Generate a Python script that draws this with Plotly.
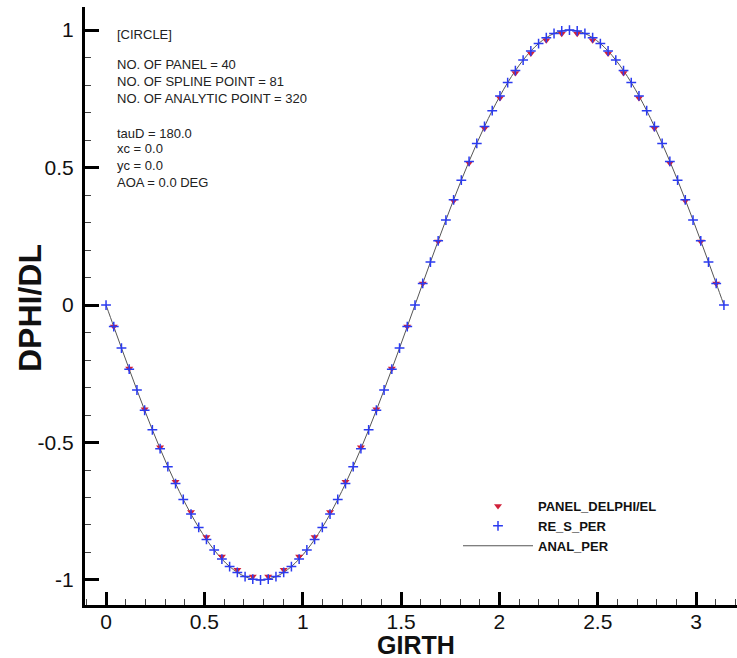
import plotly.graph_objects as go

# Spline points (RE_S_PER), 81 points
girth_s = [0.0000, 0.0393, 0.0785, 0.1178, 0.1571, 0.1963, 0.2356, 0.2749, 0.3142, 0.3534,
           0.3927, 0.4320, 0.4712, 0.5105, 0.5498, 0.5890, 0.6283, 0.6676, 0.7069, 0.7461,
           0.7854, 0.8247, 0.8639, 0.9032, 0.9425, 0.9817, 1.0210, 1.0603, 1.0996, 1.1388,
           1.1781, 1.2174, 1.2566, 1.2959, 1.3352, 1.3744, 1.4137, 1.4530, 1.4923, 1.5315,
           1.5708, 1.6101, 1.6493, 1.6886, 1.7279, 1.7671, 1.8064, 1.8457, 1.8850, 1.9242,
           1.9635, 2.0028, 2.0420, 2.0813, 2.1206, 2.1598, 2.1991, 2.2384, 2.2777, 2.3169,
           2.3562, 2.3955, 2.4347, 2.4740, 2.5133, 2.5525, 2.5918, 2.6311, 2.6704, 2.7096,
           2.7489, 2.7882, 2.8274, 2.8667, 2.9060, 2.9452, 2.9845, 3.0238, 3.0631, 3.1023,
           3.1416]
re_s_per = [0.0000, -0.0785, -0.1564, -0.2334, -0.3090, -0.3827, -0.4540, -0.5225, -0.5878, -0.6494,
            -0.7071, -0.7604, -0.8090, -0.8526, -0.8910, -0.9239, -0.9511, -0.9724, -0.9877, -0.9969,
            -1.0000, -0.9969, -0.9877, -0.9724, -0.9511, -0.9239, -0.8910, -0.8526, -0.8090, -0.7604,
            -0.7071, -0.6494, -0.5878, -0.5225, -0.4540, -0.3827, -0.3090, -0.2334, -0.1564, -0.0785,
            0.0000, 0.0785, 0.1564, 0.2334, 0.3090, 0.3827, 0.4540, 0.5225, 0.5878, 0.6494,
            0.7071, 0.7604, 0.8090, 0.8526, 0.8910, 0.9239, 0.9511, 0.9724, 0.9877, 0.9969,
            1.0000, 0.9969, 0.9877, 0.9724, 0.9511, 0.9239, 0.8910, 0.8526, 0.8090, 0.7604,
            0.7071, 0.6494, 0.5878, 0.5225, 0.4540, 0.3827, 0.3090, 0.2334, 0.1564, 0.0785,
            0.0000]

# Panel midpoints (PANEL_DELPHI/EL), 40 points
girth_p = [0.0393, 0.1178, 0.1963, 0.2749, 0.3534, 0.4320, 0.5105, 0.5890, 0.6676, 0.7461,
           0.8247, 0.9032, 0.9817, 1.0603, 1.1388, 1.2174, 1.2959, 1.3744, 1.4530, 1.5315,
           1.6101, 1.6886, 1.7671, 1.8457, 1.9242, 2.0028, 2.0813, 2.1598, 2.2384, 2.3169,
           2.3955, 2.4740, 2.5525, 2.6311, 2.7096, 2.7882, 2.8667, 2.9452, 3.0238, 3.1023]
panel_delphi = [-0.078, -0.231, -0.379, -0.517, -0.643, -0.753, -0.844, -0.915, -0.963, -0.987,
                -0.987, -0.963, -0.915, -0.844, -0.753, -0.643, -0.517, -0.379, -0.231, -0.078,
                0.078, 0.231, 0.379, 0.517, 0.643, 0.753, 0.844, 0.915, 0.963, 0.987,
                0.987, 0.963, 0.915, 0.844, 0.753, 0.643, 0.517, 0.379, 0.231, 0.078]

# Analytic curve (ANAL_PER)
girth_a = girth_s
anal_per = re_s_per

x_ticks = [0, 0.5, 1, 1.5, 2, 2.5, 3]
x_ticktext = ["0", "0.5", "1", "1.5", "2", "2.5", "3"]
y_ticks = [-1, -0.5, 0, 0.5, 1]
y_ticktext = ["-1", "-0.5", "0", "0.5", "1"]

info_lines = ["[CIRCLE]", "NO. OF PANEL = 40", "NO. OF SPLINE POINT = 81",
              "NO. OF ANALYTIC POINT = 320", "tauD = 180.0", "xc = 0.0", "yc = 0.0",
              "AOA = 0.0 DEG"]

W, H = 737, 658
L, R, T, B = 85, 0, 7, 53
pw, ph = W - L - R, H - T - B

fig = go.Figure()
fig.add_trace(go.Scatter(x=girth_a, y=anal_per, mode="lines", name="<b>ANAL_PER</b>", legendrank=3,
                         line=dict(color="#555555", width=1, shape="spline")))
fig.add_trace(go.Scatter(x=girth_p, y=panel_delphi, mode="markers", name="<b>PANEL_DELPHI/EL</b>",
                         legendrank=1,
                         marker=dict(symbol="triangle-down", size=7, color="#d0203a")))
fig.add_trace(go.Scatter(x=girth_s, y=re_s_per, mode="markers", name="<b>RE_S_PER</b>", legendrank=2,
                         marker=dict(symbol="cross-thin-open", size=7, color="#2b3bf0",
                                     line=dict(width=1.5, color="#2b3bf0"))))

font_fam = "Liberation Sans, Arial, sans-serif"
axis_common = dict(showgrid=False, zeroline=False, showline=True, linecolor="black", linewidth=3,
                   ticks="inside", tickcolor="black", tickwidth=2.5, mirror=False,
                   tickfont=dict(family=font_fam, size=21, color="#111"))
fig.update_xaxes(range=[-0.107, 3.208], tickvals=x_ticks, ticktext=x_ticktext, ticklen=13,
                 minor=dict(dtick=0.1, tick0=0, ticks="inside", ticklen=6, tickwidth=1, tickcolor="#444"),
                 ticklabelstandoff=-4, **axis_common)
fig.update_yaxes(range=[-1.091, 1.084], tickvals=y_ticks, ticktext=y_ticktext, ticklen=14,
                 minor=dict(dtick=0.1, tick0=0, ticks="inside", ticklen=6, tickwidth=1, tickcolor="#444"),
                 ticklabelstandoff=4, **axis_common)

def px_x(p):
    return (p - L) / pw

def px_y(p):
    return (H - B - p) / ph

ys = [35, 64, 81, 98, 133, 149, 165, 182]
for txt, yy in zip(info_lines, ys):
    fig.add_annotation(x=px_x(115), y=px_y(yy), xref="paper", yref="paper", text=txt,
                       showarrow=False, xanchor="left", yanchor="middle",
                       font=dict(family=font_fam, size=13, color="#222"))

fig.add_annotation(x=px_x(416), y=px_y(645), xref="paper", yref="paper", text="<b>GIRTH</b>",
                   showarrow=False, xanchor="center", yanchor="middle",
                   font=dict(family=font_fam, size=25, color="#111"))
fig.add_annotation(x=px_x(30), y=px_y(308), xref="paper", yref="paper", text="<b>DPHI/DL</b>",
                   showarrow=False, xanchor="center", yanchor="middle", textangle=-90,
                   font=dict(family=font_fam, size=32, color="#111"))

fig.update_layout(
    width=W, height=H, margin=dict(l=L, r=R, t=T, b=B),
    plot_bgcolor="white", paper_bgcolor="white",
    legend=dict(x=px_x(458), y=px_y(491), xanchor="left", yanchor="top",
                traceorder="normal", bgcolor="rgba(0,0,0,0)", tracegroupgap=0,
                font=dict(family=font_fam, size=13, color="#111"), itemwidth=70),
)

fig.write_html("out.html", config={"displayModeBar": False},
               post_script="document.body.style.margin='0';")
